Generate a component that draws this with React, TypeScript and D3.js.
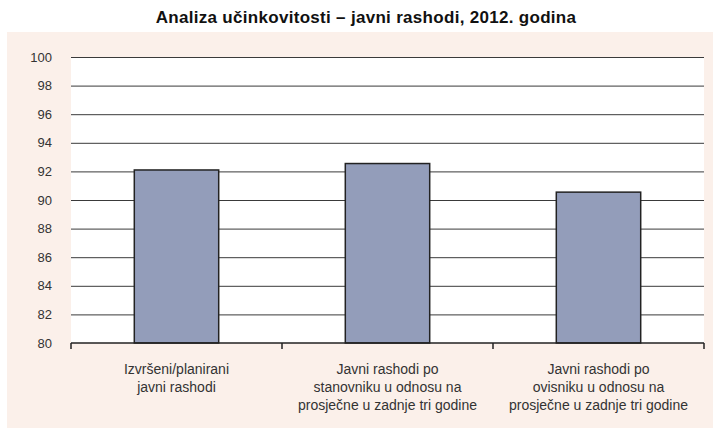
import React, { useEffect, useRef } from "react";
import * as d3 from "d3";

const categories = [
  ["Izvršeni/planirani", "javni rashodi"],
  ["Javni rashodi po", "stanovniku u odnosu na", "prosječne u zadnje tri godine"],
  ["Javni rashodi po", "ovisniku u odnosu na", "prosječne u zadnje tri godine"],
];
const values = [92.1, 92.55, 90.55];
const yTicks = [80, 82, 84, 86, 88, 90, 92, 94, 96, 98, 100];
const title = "Analiza učinkovitosti – javni rashodi, 2012. godina";

const App = () => {
  const ref = useRef(null);
  const width = 713;
  const height = 429;
  const marginTop = 57;
  const marginRight = 9;
  const marginBottom = 86;
  const marginLeft = 71;

  useEffect(() => {
    const svg = d3.select(ref.current);
    svg.selectAll("*").remove();

    const x = d3
      .scaleBand()
      .domain(categories.map((d, i) => String(i)))
      .range([marginLeft, width - marginRight])
      .paddingInner(0.6)
      .paddingOuter(0.3);

    const y = d3.scaleLinear([80, 100], [height - marginBottom, marginTop]);

    // panel background
    svg
      .append("rect")
      .attr("x", 7)
      .attr("y", 32)
      .attr("width", width - 7)
      .attr("height", height - 33)
      .attr("fill", "#fbf0ea");

    // plot area
    svg
      .append("rect")
      .attr("x", marginLeft)
      .attr("y", marginTop)
      .attr("width", width - marginRight - marginLeft)
      .attr("height", height - marginBottom - marginTop)
      .attr("fill", "#fff");

    // title
    svg
      .append("text")
      .attr("x", 366)
      .attr("y", 23)
      .attr("text-anchor", "middle")
      .attr("font-family", "'Liberation Sans', Arial, sans-serif")
      .attr("font-weight", "bold")
      .attr("font-size", 17)
      .attr("letter-spacing", 0.3)
      .attr("fill", "#111")
      .text(title);

    // y axis with grid lines
    svg
      .append("g")
      .attr("transform", `translate(${marginLeft},0)`)
      .call(d3.axisLeft(y).tickValues(yTicks).tickSize(0).tickPadding(19))
      .call((g) => g.select(".domain").remove())
      .call((g) =>
        g
          .selectAll(".tick text")
          .attr("font-family", "'Liberation Sans', Arial, sans-serif")
          .attr("font-size", 13)
          .attr("fill", "#333")
      )
      .call((g) =>
        g
          .selectAll(".tick")
          .filter((d) => d !== 80)
          .append("line")
          .attr("x2", width - marginRight - marginLeft)
          .attr("stroke", "#3a3a3a")
          .attr("stroke-width", 1)
      );

    // bars
    svg
      .append("g")
      .selectAll("rect")
      .data(values)
      .join("rect")
      .attr("x", (d, i) => x(String(i)))
      .attr("y", (d) => y(d))
      .attr("width", x.bandwidth())
      .attr("height", (d) => y(80) - y(d))
      .attr("fill", "#939dba")
      .attr("stroke", "#222")
      .attr("stroke-width", 1.5);

    // x axis
    const step = (width - marginRight - marginLeft) / categories.length;
    const bounds = d3.range(categories.length + 1).map((i) => marginLeft + i * step);
    const xAxis = svg.append("g");
    xAxis
      .append("line")
      .attr("x1", marginLeft)
      .attr("x2", width - marginRight)
      .attr("y1", y(80))
      .attr("y2", y(80))
      .attr("stroke", "#222")
      .attr("stroke-width", 1.5);
    xAxis
      .selectAll("line.tick")
      .data(bounds)
      .join("line")
      .attr("class", "tick")
      .attr("x1", (d) => d)
      .attr("x2", (d) => d)
      .attr("y1", y(80))
      .attr("y2", y(80) + 6)
      .attr("stroke", "#222")
      .attr("stroke-width", 1.5);

    xAxis
      .selectAll("text")
      .data(categories)
      .join("text")
      .attr("x", (d, i) => x(String(i)) + x.bandwidth() / 2)
      .attr("y", 374)
      .attr("text-anchor", "middle")
      .attr("font-family", "'Liberation Sans', Arial, sans-serif")
      .attr("font-size", 14)
      .attr("fill", "#333")
      .selectAll("tspan")
      .data((d) => d)
      .join("tspan")
      .attr("x", function () {
        return (this.parentNode as SVGTextElement).getAttribute("x");
      })
      .attr("dy", (d, i) => (i === 0 ? 0 : 18))
      .text((d) => d);
  }, []);

  return (
    <svg
      ref={ref}
      width={width}
      height={height}
      style={{ position: "fixed", left: 0, top: 0, background: "#fff" }}
    />
  );
};

export default App;
